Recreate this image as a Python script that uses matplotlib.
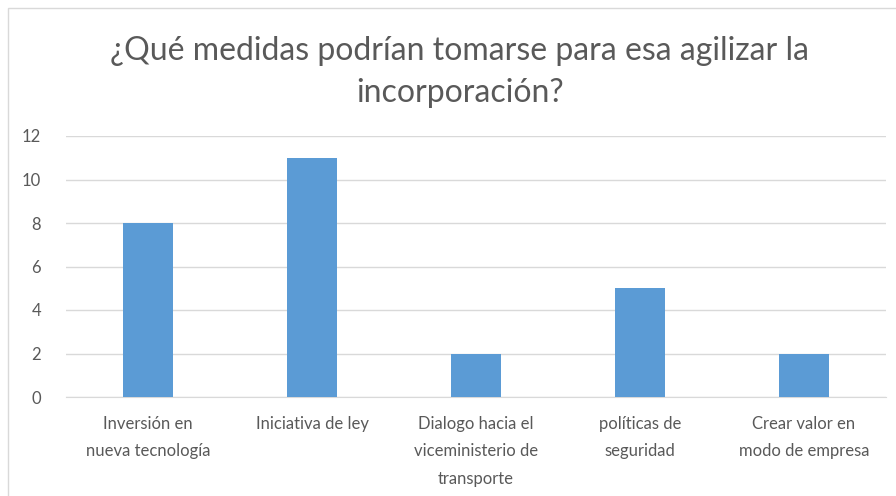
import matplotlib.pyplot as plt
from matplotlib.patches import Rectangle

categorias = ["Inversión en\nnueva tecnología", "Iniciativa de ley",
              "Dialogo hacia el\nviceministerio de\ntransporte",
              "políticas de\nseguridad", "Crear valor en\nmodo de empresa"]
valores = [8, 11, 2, 5, 2]
yticks = [0, 2, 4, 6, 8, 10, 12]

plt.rcParams['font.family'] = ['Lato', 'DejaVu Sans']
gris = '#595959'

fig = plt.figure(figsize=(8.96, 4.96), dpi=100)
ax = fig.add_axes([66/896, 99/496, 820/896, 261/496])

x = range(len(categorias))
ax.bar(x, valores, width=0.31, color='#5b9bd5', zorder=3)
ax.set_xlim(-0.5, len(categorias) - 0.5)
ax.set_ylim(0, 12)
ax.set_yticks(yticks)
ax.set_xticks(list(x))
ax.set_xticklabels(categorias, fontsize=12, color=gris, linespacing=1.85, va='top')
ax.tick_params(axis='y', labelsize=12, labelcolor=gris, length=0, pad=18)
ax.tick_params(axis='x', length=0, pad=14)
ax.grid(axis='y', color='#d9d9d9', linewidth=1, zorder=0)
for s in ['top', 'right', 'left']:
    ax.spines[s].set_visible(False)
ax.spines['bottom'].set_color('#d9d9d9')

# título centrado sobre el área del gráfico, no sobre la figura
cx = 460/896
fig.text(cx, 1 - 51/496, "¿Qué medidas podrían tomarse para esa agilizar la",
         ha='center', va='center', fontsize=23, color=gris)
fig.text(cx, 1 - 93/496, "incorporación?",
         ha='center', va='center', fontsize=23, color=gris)

fig.patches.append(Rectangle((8/896, -0.1), 1.2, (496-8)/496 + 0.1,
                             transform=fig.transFigure, fill=False,
                             edgecolor='#d9d9d9', linewidth=1))

fig.savefig('out.png', dpi=100)
